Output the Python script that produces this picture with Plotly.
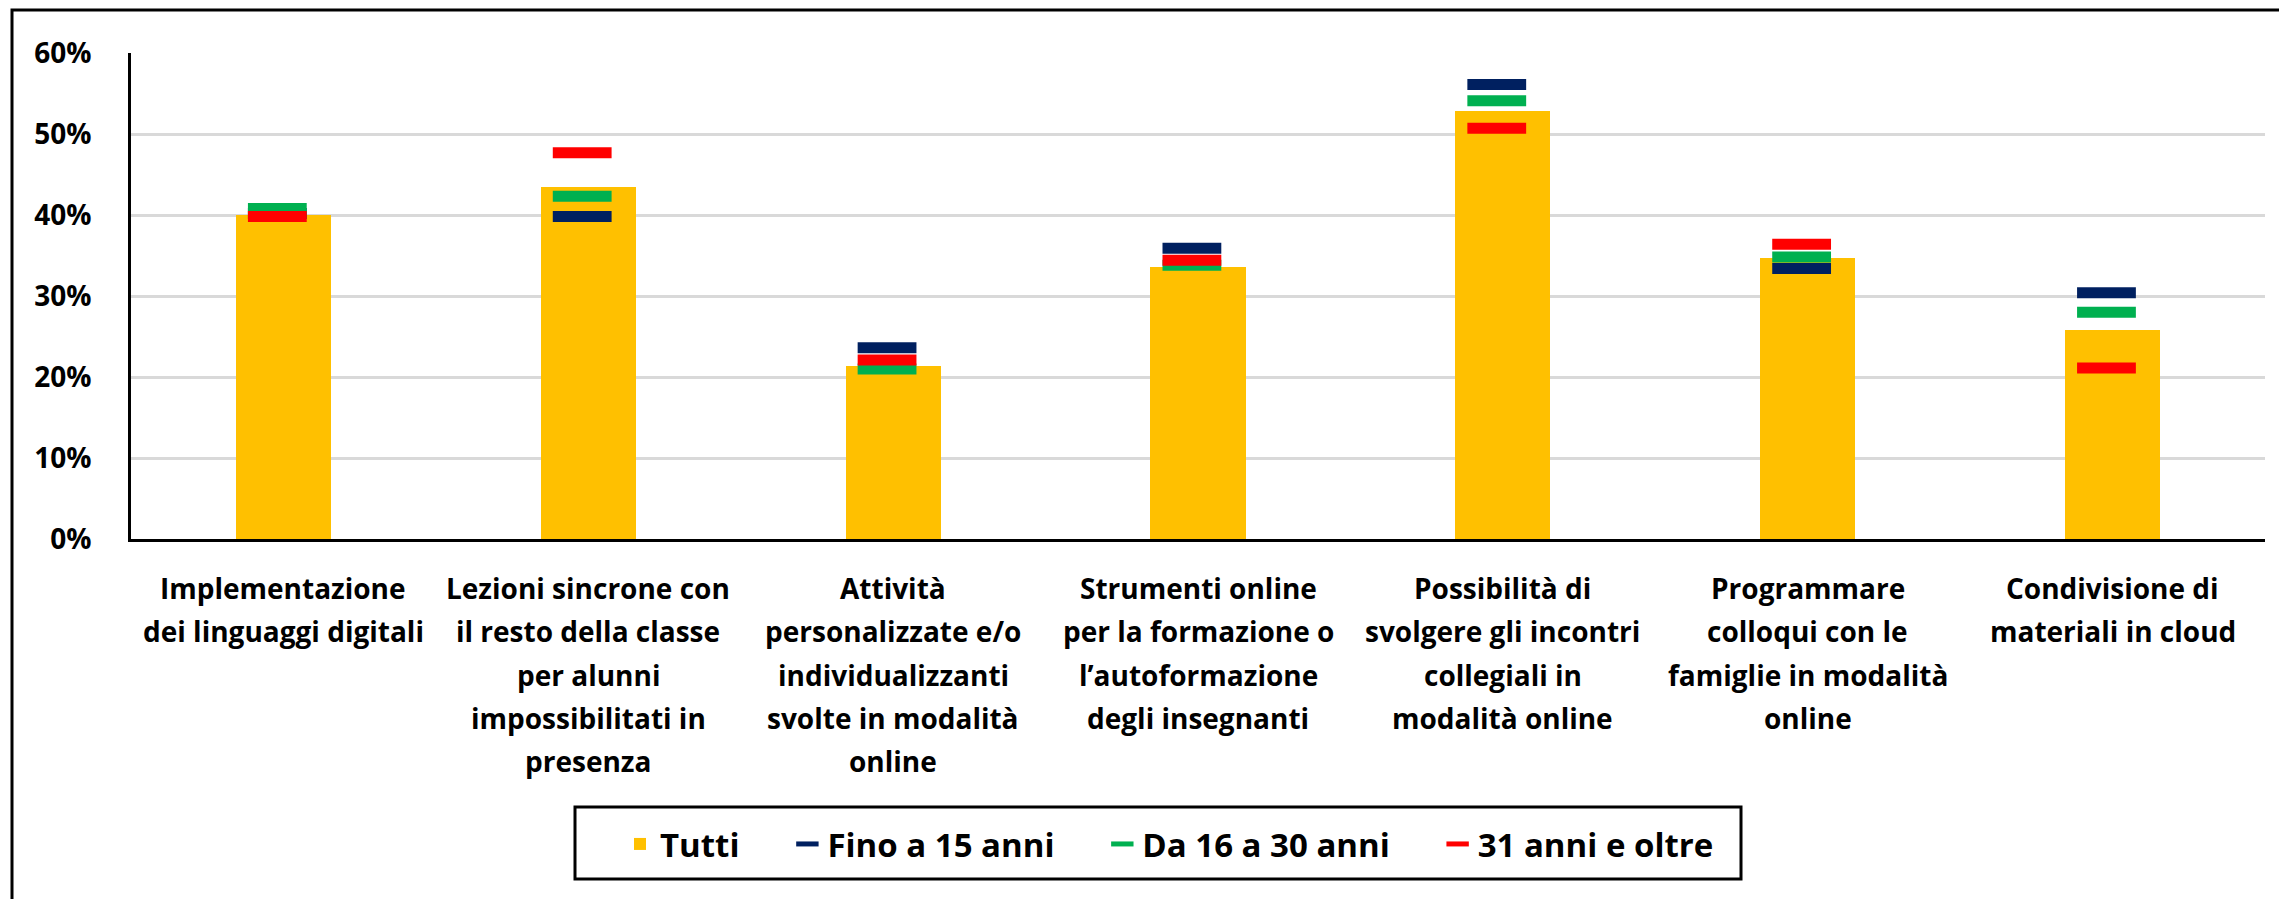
import plotly.graph_objects as go

# ---- data ----
categories = [
    "Implementazione<br>dei linguaggi digitali",
    "Lezioni sincrone con<br>il resto della classe<br>per alunni<br>impossibilitati in<br>presenza",
    "Attività<br>personalizzate e/o<br>individualizzanti<br>svolte in modalità<br>online",
    "Strumenti online<br>per la formazione o<br>l’autoformazione<br>degli insegnanti",
    "Possibilità di<br>svolgere gli incontri<br>collegiali in<br>modalità online",
    "Programmare<br>colloqui con le<br>famiglie in modalità<br>online",
    "Condivisione di<br>materiali in cloud",
]
tutti = [0.400, 0.435, 0.213, 0.336, 0.528, 0.347, 0.258]
fino_15 = [0.402, 0.398, 0.236, 0.359, 0.561, 0.334, 0.304]
da_16_30 = [0.408, 0.423, 0.210, 0.338, 0.541, 0.348, 0.280]
oltre_31 = [0.398, 0.477, 0.221, 0.344, 0.507, 0.364, 0.211]

series_names = ["Tutti", "Fino a 15 anni", "Da 16 a 30 anni", "31 anni e oltre"]
y_ticks = [0, 0.1, 0.2, 0.3, 0.4, 0.5, 0.6]

# ---- styling ----
W, H = 2279, 899
ML, MR, MT, MB = 131, 14, 53, 360
PW, PH = W - ML - MR, H - MT - MB
FONT = "Open Sans"
YELLOW, NAVY, GREEN, RED = "#FFC000", "#002060", "#00B050", "#FF0000"


def px_x(p):
    return (p - ML) / PW


def px_y(p):
    return (H - MB - p) / PH


fig = go.Figure()

fig.add_trace(go.Bar(
    x=categories, y=tutti, name=series_names[0],
    marker=dict(color=YELLOW, line=dict(width=0)),
    width=0.312,
))

for vals, name, col in [(fino_15, series_names[1], NAVY),
                        (da_16_30, series_names[2], GREEN),
                        (oltre_31, series_names[3], RED)]:
    fig.add_trace(go.Scatter(
        x=categories, y=vals, name=name, mode="markers", xaxis="x2",
        marker=dict(symbol="line-ew", size=42, color=col,
                    line=dict(color=col, width=11)),
    ))

# category labels, one annotation per text line
annotations = []
for cat in categories:
    for k, line in enumerate(cat.split("<br>")):
        annotations.append(dict(
            x=cat, y=0, xref="x", yref="paper",
            text=line, showarrow=False, xanchor="center", yanchor="middle",
            yshift=-(49 + 43.3 * k),
            font=dict(family=FONT, size=28, color="black", weight="bold"),
        ))

shapes = [
    # chart frame (top and left edges visible)
    dict(type="rect", xref="paper", yref="paper",
         x0=px_x(12), x1=px_x(W + 20), y0=px_y(H + 20), y1=px_y(10),
         line=dict(color="black", width=3), fillcolor="rgba(0,0,0,0)"),
    # legend frame
    dict(type="rect", xref="paper", yref="paper",
         x0=px_x(575), x1=px_x(1741), y0=px_y(879), y1=px_y(807),
         line=dict(color="black", width=3), fillcolor="rgba(0,0,0,0)"),
]

fig.update_layout(
    width=W, height=H,
    margin=dict(l=ML, r=MR, t=MT, b=MB, autoexpand=False),
    paper_bgcolor="white", plot_bgcolor="white",
    font=dict(family=FONT, size=28, color="black", weight="bold"),
    bargap=0,
    showlegend=True,
    legend=dict(
        orientation="h", x=px_x(620), xanchor="left",
        y=px_y(844), yanchor="middle",
        font=dict(family=FONT, size=33, color="black", weight="bold"),
        bgcolor="rgba(0,0,0,0)", borderwidth=0,
    ),
    xaxis=dict(
        type="category", range=[-0.5, 6.5], showticklabels=False,
        showgrid=False, zeroline=False,
        showline=True, linecolor="black", linewidth=3, ticks="",
    ),
    xaxis2=dict(
        type="category", overlaying="x", range=[-0.48, 6.52],
        visible=False,
    ),
    yaxis=dict(
        range=[0, 0.6], tickvals=y_ticks, tickformat=".0%",
        showgrid=True, gridcolor="#D9D9D9", gridwidth=3,
        zeroline=False, showline=True, linecolor="black", linewidth=3,
        ticks="", ticklabelstandoff=31,
        tickfont=dict(family=FONT, size=28, color="black", weight="bold"),
    ),
    annotations=annotations,
    shapes=shapes,
)

# legend entries: widen the gap after each label
for tr in fig.data:
    tr.name = tr.name + "\u00a0" * 5

fig.write_html("out.html")
